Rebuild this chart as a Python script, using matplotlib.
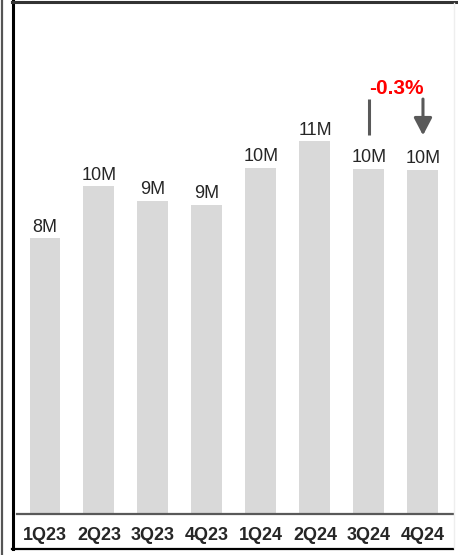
import matplotlib.pyplot as plt
from matplotlib.lines import Line2D

# ---------- Data ----------

quarters = ["1Q23", "2Q23", "3Q23", "4Q23", "1Q24", "2Q24", "3Q24", "4Q24"]
values_m = [8.21, 9.76, 9.32, 9.20, 10.30, 11.10, 10.27, 10.24]
labels = ["8M", "10M", "9M", "9M", "10M", "11M", "10M", "10M"]
change_text = "-0.3%"

BAR_COLOR = "#d9d9d9"
LINE_COLOR = "#595959"
TEXT_COLOR = "#262626"

W, H = 458, 555


def px_box(left, top, right, bottom):
    """Figure-fraction axes box from pixel edges (top-left origin)."""
    return [left / W, 1 - bottom / H, (right - left) / W, (bottom - top) / H]


def main():
    plt.rcParams["font.family"] = ["Liberation Sans", "DejaVu Sans"]

    fig = plt.figure(figsize=(W / 100, H / 100), dpi=100)
    ax = fig.add_axes(px_box(17, 10, 453, 514))

    x = list(range(len(quarters)))
    ax.bar(x, values_m, width=0.574, color=BAR_COLOR, zorder=2)

    ax.set_xlim(-0.5185, 7.556)
    ax.set_ylim(0, 15.0)

    for xi, v, lab in zip(x, values_m, labels):
        ax.annotate(lab, (xi, v), xytext=(0, 4.7), textcoords="offset points",
                    ha="center", va="baseline", fontsize=13, color=TEXT_COLOR)

    # change bracket between last two quarters
    i0, i1 = len(quarters) - 2, len(quarters) - 1
    top = max(values_m[i0], values_m[i1])
    y_hi, y_lo = top + 2.08, top + 1.0
    ax.plot([i0, i0], [y_lo, y_hi], color=LINE_COLOR, lw=2.2,
            solid_capstyle="butt")
    ax.annotate("", xy=(i1, y_lo), xytext=(i1, y_hi),
                arrowprops=dict(arrowstyle="-|>,head_length=1.05,head_width=0.55",
                                color=LINE_COLOR, lw=2.2, shrinkA=0, shrinkB=0))
    ax.text((i0 + i1) / 2, y_hi + 0.03, change_text, ha="center", va="bottom",
            fontsize=15, fontweight="bold", color="red")

    for s in ["top", "right", "left"]:
        ax.spines[s].set_visible(False)
    ax.spines["bottom"].set_color(LINE_COLOR)
    ax.spines["bottom"].set_linewidth(1.6)
    ax.set_yticks([])
    ax.set_xticks(x)
    ax.set_xticklabels(quarters, fontsize=13, fontweight="bold", color=TEXT_COLOR)
    ax.tick_params(axis="x", length=0, pad=9)

    # outer frame lines
    def fline(xs, ys, color, lw):
        fig.add_artist(Line2D([a / W for a in xs], [1 - b / H for b in ys],
                              color=color, lw=lw, transform=fig.transFigure))

    fline([1.5, 1.5], [0, H], "#555555", 1.6)
    fline([12.5, 12.5], [0, 549], "black", 2.2)
    fline([12, W], [1.5, 1.5], "#333333", 2.2)
    fline([12, 453], [548.5, 548.5], "black", 1.6)
    fline([453.5, 453.5], [3, 548], "#eeeeee", 1.0)

    fig.savefig("out.png", dpi=100)
    plt.close(fig)


if __name__ == "__main__":
    main()
